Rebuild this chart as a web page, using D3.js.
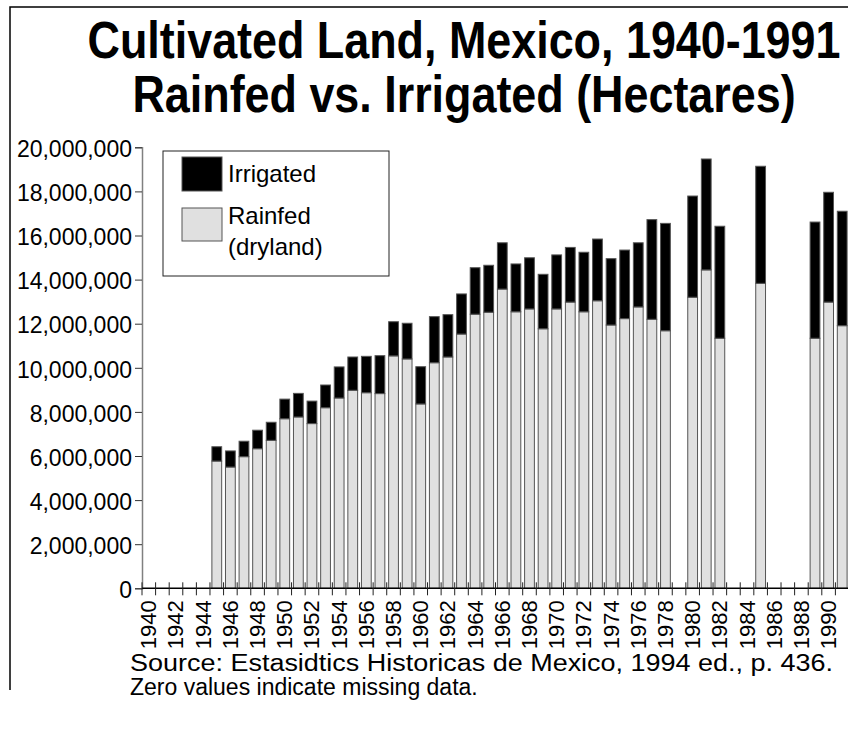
<!DOCTYPE html>
<html>
<head>
<meta charset="utf-8">
<script src="https://cdn.jsdelivr.net/npm/d3@7"></script>
<style>
  html, body { margin: 0; padding: 0; background: #fff; }
  svg { display: block; font-family: "Liberation Sans", Arial, sans-serif; }
</style>
</head>
<body>
<svg id="chart" width="848" height="730"></svg>
<script>
// Cultivated land in Mexico, hectares, by year (0 = no data)
const years = d3.range(1940, 1992);
const rainfed = [
  0, 0, 0, 0, 0,
  5770000, 5500000, 5970000, 6330000, 6710000,
  7690000, 7770000, 7470000, 8190000, 8630000,
  8980000, 8870000, 8830000, 10540000, 10400000,
  8360000, 10230000, 10490000, 11530000, 12430000,
  12520000, 13570000, 12540000, 12670000, 11770000,
  12670000, 12980000, 12540000, 13040000, 11940000,
  12230000, 12760000, 12200000, 11680000, 0,
  13200000, 14440000, 11340000, 0, 0,
  13830000, 0, 0, 0, 11340000,
  12980000, 11910000
];
const irrigated = [
  0, 0, 0, 0, 0,
  650000, 730000, 700000, 840000, 820000,
  890000, 1070000, 1020000, 1030000, 1410000,
  1510000, 1650000, 1720000, 1550000, 1620000,
  1690000, 2090000, 1920000, 1820000, 2110000,
  2130000, 2100000, 2170000, 2320000, 2470000,
  2450000, 2480000, 2700000, 2800000, 3010000,
  3110000, 2910000, 4520000, 4870000, 0,
  4590000, 5030000, 5080000, 0, 0,
  5310000, 0, 0, 0, 5270000,
  4980000, 5190000
];
const yTicks = d3.range(0, 20000001, 2000000);
const xLabelYears = years.filter(y => y % 2 === 0);
const seriesKeys = ["rainfed", "irrigated"];
const seriesColors = { rainfed: "#e0e0e0", irrigated: "#000000" };
const titleLines = ["Cultivated Land, Mexico, 1940-1991", "Rainfed vs. Irrigated (Hectares)"];
const noteLines = ["Source: Estasidtics Historicas de Mexico, 1994 ed., p. 436.", "Zero values indicate missing data."];

const rows = years.map((yr, i) => ({ year: yr, rainfed: rainfed[i], irrigated: irrigated[i] }));
const stacked = d3.stack().keys(seriesKeys)(rows);

const svg = d3.select("#chart");
const plot = { left: 142, right: 849, top: 147.3, bottom: 588.3 };

const x = d3.scaleBand().domain(years).range([plot.left, plot.right])
  .paddingInner(0.28).paddingOuter(0.14);
const y = d3.scaleLinear().domain([0, 20000000]).range([plot.bottom, plot.top]);

// outer frame
svg.append("path")
  .attr("d", "M10,690V7H848")
  .attr("fill", "none").attr("stroke", "#000").attr("stroke-width", 1.5);

// title
const title = svg.append("g").attr("font-weight", "bold").attr("font-size", 51)
  .attr("text-anchor", "middle").attr("fill", "#000");
titleLines.forEach((t, i) => {
  title.append("text")
    .attr("transform", `translate(464,${58 + i * 54}) scale(0.88,1)`)
    .text(t);
});

// stacked bars
svg.append("g").selectAll("g")
  .data(stacked)
  .join("g")
  .attr("fill", d => seriesColors[d.key])
  .selectAll("rect")
  .data(d => d.filter(s => s[1] > s[0]))
  .join("rect")
  .attr("x", d => x(d.data.year))
  .attr("width", x.bandwidth())
  .attr("y", d => y(d[1]))
  .attr("height", d => y(d[0]) - y(d[1]))
  .attr("stroke", "#555")
  .attr("stroke-width", 1);

// y axis
const yAxis = svg.append("g").attr("transform", `translate(${plot.left},0)`)
  .call(d3.axisLeft(y).tickValues(yTicks).tickSize(7).tickPadding(3)
    .tickFormat(d3.format(",")));
yAxis.select(".domain").attr("stroke", "#808080").attr("stroke-width", 1.5);
yAxis.selectAll(".tick line").attr("stroke", "#333");
yAxis.selectAll(".tick text")
  .attr("font-family", "'Liberation Sans', Arial, sans-serif")
  .attr("font-size", 23).attr("fill", "#000")
  .attr("dy", "0.4em");

// x axis: tick marks at category boundaries, labels every other year
const step = x.step();
const xg = svg.append("g");
xg.append("line")
  .attr("x1", plot.left).attr("x2", plot.right)
  .attr("y1", plot.bottom).attr("y2", plot.bottom)
  .attr("stroke", "#000").attr("stroke-width", 1.5);
xg.selectAll("line.tk")
  .data(d3.range(years.length + 1))
  .join("line").attr("class", "tk")
  .attr("x1", i => plot.left + i * step).attr("x2", i => plot.left + i * step)
  .attr("y1", plot.bottom - 6).attr("y2", plot.bottom + 7)
  .attr("stroke", "#222").attr("stroke-width", 1);
xg.selectAll("text")
  .data(xLabelYears)
  .join("text")
  .attr("transform", d => `translate(${x(d) + x.bandwidth() / 2 + 7.5},${plot.bottom + 12}) rotate(-90)`)
  .attr("text-anchor", "end")
  .attr("font-size", 22)
  .attr("fill", "#000")
  .text(d => d);

// legend
const legend = svg.append("g");
legend.append("rect")
  .attr("x", 163).attr("y", 151).attr("width", 226).attr("height", 125)
  .attr("fill", "#fff").attr("stroke", "#222").attr("stroke-width", 1);
legend.append("rect")
  .attr("x", 182).attr("y", 157).attr("width", 40).attr("height", 34)
  .attr("fill", seriesColors.irrigated).attr("stroke", "#555");
legend.append("rect")
  .attr("x", 182).attr("y", 208).attr("width", 40).attr("height", 33)
  .attr("fill", seriesColors.rainfed).attr("stroke", "#555");
const legText = legend.append("g").attr("font-size", 24).attr("fill", "#000");
legText.append("text").attr("x", 228).attr("y", 182).text("Irrigated");
legText.append("text").attr("x", 228).attr("y", 224).text("Rainfed");
legText.append("text").attr("x", 228).attr("y", 255).text("(dryland)");

// source note
const note = svg.append("g").attr("font-size", 23).attr("fill", "#000");
note.append("text").attr("x", 130).attr("y", 671)
  .attr("textLength", 703).attr("lengthAdjust", "spacingAndGlyphs")
  .text(noteLines[0]);
note.append("text").attr("x", 130).attr("y", 695).text(noteLines[1]);
</script>
</body>
</html>
